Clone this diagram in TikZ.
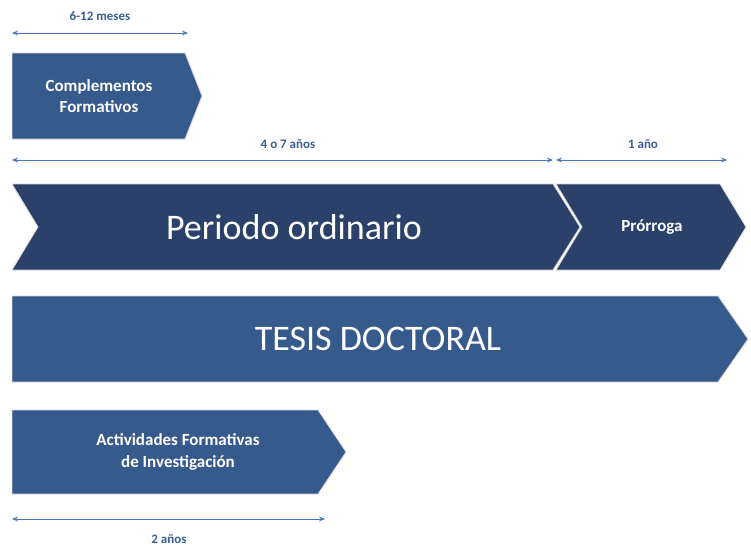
\documentclass[tikz,border=0pt]{standalone}
\usepackage{fontspec}
\setmainfont{Carlito}
\usetikzlibrary{arrows.meta}
\definecolor{dark}{HTML}{2B4169}
\definecolor{mid}{HTML}{365A8C}
\definecolor{lbl}{HTML}{3B5E96}
\definecolor{arr}{HTML}{4A78B8}
\begin{document}
\begin{tikzpicture}[x=1pt,y=-1pt,
  shp/.style={draw=white!70!gray,line width=0.8pt},
  dim/.style={draw=arr,line width=0.9pt,{Stealth[length=6pt,width=5pt]}-{Stealth[length=6pt,width=5pt]}},
  dl/.style={text=lbl,font=\bfseries\fontsize{13}{15}\selectfont},
  wt/.style={text=white,align=center}]
\useasboundingbox (0,0) rectangle (751,555);
% complementos
\fill[mid,shp] (12,53) -- (185,53) -- (202,96) -- (185,139) -- (12,139) -- cycle;
\node[wt,font=\bfseries\fontsize{17}{21}\selectfont] (cf) at (99,96) {Complementos\\Formativos};
\coordinate (a1) at (12,33); \coordinate (a2) at (188,33);
\draw[dim] (a1) -- (a2);
\node[dl] (l1) at (100,16) {6-12 meses};
% periodo
\coordinate (b1) at (12,160); \coordinate (b2) at (553,160);
\draw[dim] (b1) -- (b2);
\node[dl] (l2) at (288,144) {4 o 7 años};
\coordinate (c1) at (556,160); \coordinate (c2) at (727,160);
\draw[dim] (c1) -- (c2);
\node[dl] (l3) at (643,144) {1 año};
\fill[dark,shp] (12,184) -- (553,184) -- (580,227) -- (553,270) -- (12,270) -- (38,227) -- cycle;
\node[wt,font=\fontsize{36}{40}\selectfont] (po) at (294,227) {Periodo ordinario};
\fill[dark,shp] (556,184) -- (720,184) -- (746,227) -- (720,270) -- (556,270) -- (582,227) -- cycle;
\node[wt,font=\bfseries\fontsize{17}{20}\selectfont] (pr) at (652,227) {Prórroga};
% tesis
\fill[mid,shp] (12,296) -- (718,296) -- (748,339) -- (718,382) -- (12,382) -- cycle;
\node[wt,font=\fontsize{36}{40}\selectfont] (td) at (378,339) {TESIS DOCTORAL};
% actividades
\fill[mid,shp] (12,410) -- (318,410) -- (346,452) -- (318,494) -- (12,494) -- cycle;
\node[wt,font=\bfseries\fontsize{17}{22}\selectfont] (af) at (178,452) {Actividades Formativas\\de Investigación};
\coordinate (d1) at (12,519); \coordinate (d2) at (325,519);
\draw[dim] (d1) -- (d2);
\node[dl] (l4) at (169,539) {2 años};
\end{tikzpicture}
\end{document}
